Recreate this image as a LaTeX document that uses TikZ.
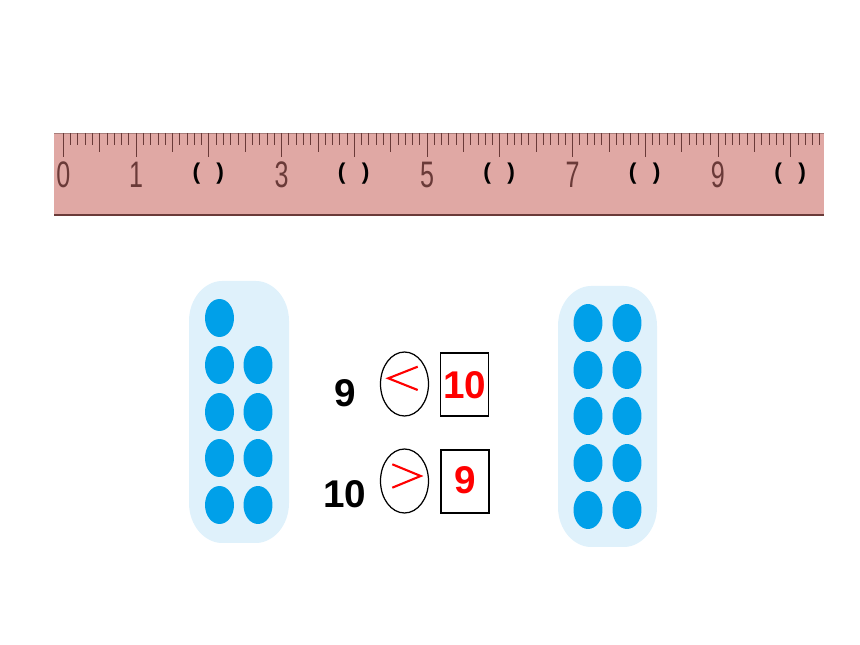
\documentclass[tikz,border=0pt]{standalone}
\usepackage{graphicx}
\usepackage{fontspec}
\setmainfont{Liberation Sans}
\usetikzlibrary{shapes.geometric}
\definecolor{rulerpink}{HTML}{E0A8A4}
\definecolor{rulerline}{HTML}{6A3A38}
\definecolor{panelblue}{HTML}{DFF1FB}
\definecolor{dotblue}{HTML}{00A0E9}
\tikzset{
  panel/.style={fill=panelblue},
  dot/.style={ellipse,fill=dotblue,inner sep=0pt,minimum width=0.58cm,minimum height=0.76cm},
  rulernum/.style={text=rulerline,font=\fontsize{21}{21}\selectfont},
  blank/.style={text=black,font=\fontsize{13}{13}\bfseries\selectfont},
  num/.style={font=\fontsize{22}{22}\bfseries\selectfont},
  ans/.style={num,text=red},
  oval/.style={ellipse,draw,line width=0.7pt,inner sep=0pt,minimum width=0.96cm,minimum height=1.28cm},
  answerbox/.style={rectangle,draw,line width=0.8pt,inner sep=0pt,minimum width=0.96cm,minimum height=1.26cm},
  sign/.style={red,line width=1.2pt}
}
\begin{document}
\begin{tikzpicture}[x=0.02cm,y=-0.02cm]
\useasboundingbox (0,0) rectangle (860,645);

%ruler
\fill[rulerpink] (54,133) rectangle (824,215);
\draw[rulerpink!75!black,line width=0.4pt] (54,133) -- (824,133);
\draw[rulerline,line width=0.8pt] (54,215) -- (824,215);
\foreach \n in {0,...,104}{
  \pgfmathsetmacro{\tx}{63.3+7.274*\n}
  \pgfmathsetmacro{\tend}{ifthenelse(mod(\n,10)==0,157,ifthenelse(mod(\n,5)==0,152,145))}
  \draw[rulerline,line width=0.4pt] (\tx,133) -- (\tx,\tend);
}
\foreach \v in {0,1,3,5,7,9}{
  \pgfmathsetmacro{\tx}{63.3+72.74*\v}
  \node[rulernum] (num\v) at (\tx,175) {\scalebox{0.68}[1]{\v}};
}
\foreach \v in {2,4,6,8,10}{
  \pgfmathsetmacro{\tx}{63.3+72.74*\v-0.5}
  \node[blank] (blank\v) at (\tx,174) {(\hspace{9.3pt})};
}

%left group
\fill[panel] (189,321) .. controls (189,298) and (205,281) .. (222,281)
  -- (256,281) .. controls (273,281) and (289,298) .. (289,321)
  -- (289,503) .. controls (289,526) and (273,543) .. (256,543)
  -- (222,543) .. controls (205,543) and (189,526) .. (189,503) -- cycle;
\node[dot] (la) at (219.5,318) {};
\foreach \r/\y in {b/365,c/412,d/458,e/505}{
  \node[dot] (l\r1) at (219.5,\y) {};
  \node[dot] (l\r2) at (258,\y) {};
}

%right group
\fill[panel] (558,326) .. controls (558,303) and (574,286) .. (591,286)
  -- (624,286) .. controls (641,286) and (657,303) .. (657,326)
  -- (657,507) .. controls (657,530) and (641,547) .. (624,547)
  -- (591,547) .. controls (574,547) and (558,530) .. (558,507) -- cycle;
\foreach \r/\y in {a/323,b/370,c/416,d/463,e/510}{
  \node[dot] (r\r1) at (588,\y) {};
  \node[dot] (r\r2) at (627,\y) {};
}

%comparisons
\node[num] (nine) at (345.5,393) {9};
\node[oval] (ovala) at (404.5,384) {};
\draw[sign] (417.7,366.7) -- (388.3,378.3) -- (417.7,390);
\node[answerbox] (boxa) at (464.5,384.5) {};
\node[ans] (ten) at (465,385) {10};

\node[num] (tenb) at (345,494) {10};
\node[oval] (ovalb) at (404.5,481) {};
\draw[sign] (392.3,464.3) -- (420.7,476) -- (392.3,487.7);
\node[answerbox] (boxb) at (464.8,481.5) {};
\node[ans] (nineb) at (465,480) {9};

\end{tikzpicture}
\end{document}
